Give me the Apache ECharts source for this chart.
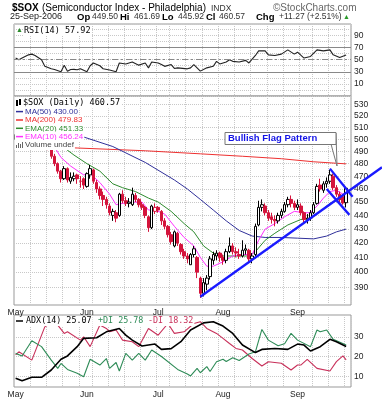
<!DOCTYPE html>
<html><head><meta charset="utf-8">
<script src="https://cdn.jsdelivr.net/npm/echarts@6/dist/echarts.min.js"></script>
<style>html,body{margin:0;padding:0;background:#fff;}#c{width:382px;height:400px;}</style>
</head><body><div id="c"></div>
<script>
// ---- trading days (2006) ----
const mayDays=[1,2,3,4,5,8,9,10,11,12,15,16,17,18,19,22,23,24,25,26,30,31];
const junDays=[1,2,5,6,7,8,9,12,13,14,15,16,19,20,21,22,23,26,27,28,29,30];
const julDays=[3,5,6,7,10,11,12,13,14,17,18,19,20,21,24,25,26,27,28,31];
const augDays=[1,2,3,4,7,8,9,10,11,14,15,16,17,18,21,22,23,24,25,28,29,30,31];
const sepDays=[1,5,6,7,8,11,12,13,14,15,18,19,20,21,22,25];
const monthLabels=['May','Jun','Jul','Aug','Sep'];

// ---- daily OHLC ----
const opens=[500,504,508,503,507,514,516,513,508,502,495,492,486,480,474,468,476,466,468,471,466,468,
462,471,475,465,460,455,452,447,440,442,440,456,451,449,448,455,452,448,446,439,431,443,
446,443,436,432,426,418,427,419,414,411,405,412,410,396,386,392,397,408,411,413,
410,408,414,418,414,412,411,415,415,409,412,433,446,447,442,439,437,436,440,443,448,452,449,
446,447,442,437,438,442,449,463,459,464,466,470,461,456,454,449.5];
const highs=[507,510,509,509,516,519,517,514,509,503,498,493,488,481,475,478,477,473,473,472,470,469,
473,479,476,467,462,458,454,449,445,444,457,459,454,453,461,457,453,450,447,440,448,449,
447,444,438,433,428,429,428,420,416,413,413,418,411,397,396,398,411,414,415,414,
412,416,424,420,417,416,422,419,416,413,434,451,452,449,444,442,440,442,445,450,454,455,451,
452,449,443,441,444,450,464,468,466,469,475,472,463,458,456,461.69];
const lows=[498,502,500,501,506,512,510,506,500,493,491,484,478,472,465,467,465,464,466,464,461,460,
461,468,464,457,452,447,445,440,436,435,439,449,447,446,447,450,446,444,438,428,430,441,
442,433,430,424,419,417,418,412,409,406,405,410,396,383,384,388,395,405,408,407,
405,406,413,412,410,409,410,412,407,406,411,432,443,440,436,434,432,434,438,442,446,446,444,
444,440,435,434,436,441,448,458,457,461,464,459,454,450,448,445.92];
const closes=[504,508,503,507,514,516,513,508,503,495,493,486,480,474,468,476,467,469,470,468,466,463,
472,476,466,460,455,452,448,442,443,438,456,451,449,450,456,452,448,446,440,431,447,446,
444,436,432,426,421,428,420,414,411,409,412,416,400,386,393,396,409,412,413,410,
408,414,418,414,413,411,415,416,409,411,432,446,448,442,438,437,436,440,443,448,452,449,446,
448,442,437,438,442,448,462,460,464,466,471,461,456,452,449.3,460.57];

// ---- overlays [day, value] ----
const ma200Pts=[[0,494.5],[19,492.8],[40,490.5],[57,488],[70,486],[82,484],[92,481.5],[102,479.83]];
const ma50Pts=[[0,512],[10,508],[21,502],[30,494],[40,481],[49,467],[53,460],[57,452],[61,444],[65,436],[69,429],[73,425],[77,424],[82,424],[87,423.5],[92,423],[96,425],[99,428],[102,430]];
const ema20Pts=[[0,500],[10,503],[14,495],[18,487],[22,480],[26,474],[30,464],[33,461],[37,458],[41,453],[44,450],[48,443],[52,434],[55,428],[58,418],[61,413],[64,411],[68,411],[72,411],[74,414],[77,422],[80,427],[84,433],[88,437],[91,438],[94,443],[97,449],[100,452],[102,451.33]];
const ema10Pts=[[0,503],[8,508],[11,498],[14,485],[17,478],[21,471],[23,472],[26,465],[29,456],[31,448],[33,449],[36,450],[39,450],[41,444],[43,444],[46,441],[49,432],[52,424],[55,418],[57,410],[59,404],[61,404],[64,407],[67,411],[70,412],[73,412],[75,422],[77,430],[80,434],[83,439],[86,443],[89,442],[91,442],[93,447],[95,453],[97,458],[99,459],[101,456],[102,456.24]];

// ---- indicators [day, value] ----
const rsiPts=[[0,52.7],[1,50],[2,52.7],[4,58],[5,59.2],[6,57],[8,50],[9,39.2],[11,34.9],[12,33.8],[14,30],[15,40.8],[16,31],[17,33.8],[18,34],[19,33.5],[20,35],[22,30],[23,40],[24,44.6],[26,40],[27,35],[29,33],[31,30],[32,44.6],[34,43],[36,46.2],[38,41],[40,44.6],[41,36.5],[42,46.2],[44,44.6],[45,42],[46,39],[48,42],[49,35.5],[50,36.5],[53,34.9],[54,36.5],[55,41.9],[57,31.1],[59,36.5],[61,39.2],[62,47.3],[63,43],[65,46.2],[66,50],[67,47.3],[69,46.2],[71,48.9],[72,44.6],[74,57],[75,64.6],[77,64.6],[78,58],[80,57],[82,59.2],[84,66.2],[86,59.2],[87,62.4],[89,52.7],[91,55.4],[93,66.2],[95,64.6],[97,66.2],[98,58],[100,53.8],[102,57.92]];
const adxPts=[[0,9],[2,7.8],[5,9.5],[8,9.5],[11,13.2],[14,18.6],[16,20.3],[19,25],[21,29.2],[25,29.5],[28,32.5],[32,34.2],[34,30.8],[36,28.3],[39,25.3],[43,26.3],[45,23.6],[48,24],[51,27.5],[54,33.4],[58,37],[61,37.6],[64,35.4],[67,31.7],[70,25.8],[74,22],[76,23.6],[80,24.1],[84,23.6],[87,26.3],[89,25.8],[91,22.8],[94,25],[97,28.7],[99,27.5],[102,25.07]];
const pdiPts=[[0,21.6],[2,20.3],[5,28],[8,25],[11,18.2],[13,14],[14,16.5],[16,13.5],[19,11.5],[21,9.8],[23,18.6],[26,15.7],[28,19],[29,14],[31,17],[32,12.7],[34,21.6],[36,18.2],[38,21.6],[40,18.2],[42,23.3],[45,20],[50,13.5],[53,11.2],[54,10.2],[56,14],[57,11.8],[59,14.9],[60,12.4],[62,17.4],[64,18.6],[65,17.5],[67,19.4],[69,18],[72,21.3],[74,22.4],[76,33.7],[78,28.3],[81,25.5],[83,26.5],[85,31.7],[87,28.3],[91,25],[93,33.4],[94,32.5],[96,33.4],[98,28.7],[102,25.78]];
const mdiPts=[[0,20.8],[1,22.4],[5,18.2],[9,35],[10,35.9],[13,35.9],[15,31.7],[16,32.5],[20,28.3],[21,30],[23,25],[26,35.9],[28,34.2],[29,32.5],[31,33.4],[33,28.3],[36,27.5],[38,25],[41,34.2],[44,30.8],[47,36.7],[49,31.7],[52,32.5],[55,36.7],[57,37.6],[59,34.2],[62,31.7],[64,29.2],[66,26.6],[68,24.1],[70,23.3],[73,19],[76,15.2],[78,17.4],[82,16.6],[85,13.2],[87,15.7],[88,15.7],[90,18.6],[93,14],[97,12.7],[99,17.4],[101,20.3],[102,18.32]];

// ---- ticks ----
const priceTicks=[390,400,410,420,430,440,450,460,470,480,490,500,510,520,530];
const rsiLabels=[10,30,50,70,90];
const adxTicks=[10,20,30];

// ---- trend lines (data space: [day, price]) ----
const upTrend=[[57.4,383.8],[98,450]];
const flagUpper=[[97,476],[104.2,454]];
const flagLower=[[96.1,460],[103.2,440.4]];

// build categories
const cats=[], monthStart=new Set(), weekStart=new Set(), monthOf={};
let prev=null;
[mayDays,junDays,julDays,augDays,sepDays].forEach((days,m)=>days.forEach((d,k)=>{
  const dt=new Date(2006,4+m,d); const i=cats.length;
  cats.push((4+m+1)+'/'+d);
  if(k===0){monthStart.add(i);monthOf[i]=monthLabels[m];}
  if(prev && (dt.getDay()<=prev.getDay() || (dt-prev)>4*864e5)) weekStart.add(i);
  prev=dt;
}));
cats.push('');
const L=Math.log;

const RED='#d4143c', BLK='#000';
const candleData=closes.map((c,i)=>{
  const o=opens[i], pc=i>0?closes[i-1]:o;
  const col = c>=pc ? BLK : RED;
  const up = c>o;
  return {value:[L(o),L(c),L(lows[i]),L(highs[i])],
    itemStyle:{color: up?'#fff':col, color0: up?'#fff':col, borderColor:col, borderColor0:col}};
});
const lp=pts=>pts.map(p=>[p[0],L(p[1])]);

const grids=[{left:14,top:24,width:337,height:72},{left:14,top:96,width:337,height:209},{left:14,top:315,width:337,height:72}];
const gridLine={color:'#c8c8c8',type:'dotted',width:1};
const xAxes=[0,1,2].map(g=>({type:'category',gridIndex:g,data:cats,boundaryGap:true,
  axisLine:{show:false},axisTick:{show:false},
  axisLabel:{show:g>0,interval:(i)=>monthStart.has(i),formatter:(v,i)=>monthOf[i]||'',fontSize:8.5,color:'#222',fontFamily:'Liberation Sans',margin:3},
  splitLine:{show:true,interval:(i)=>weekStart.has(i),lineStyle:gridLine}}));
const yLab={fontSize:8.5,color:'#222',fontFamily:'Liberation Sans',margin:3};
const yAxes=[
 {type:'value',gridIndex:0,position:'right',min:-10,max:109,interval:10,axisLine:{show:false},axisTick:{show:false},
  axisLabel:Object.assign({formatter:v=>rsiLabels.includes(v)?String(v):''},yLab),splitLine:{show:true,lineStyle:gridLine}},
 {type:'value',gridIndex:1,position:'right',min:L(378.5),max:L(537.8),axisLine:{show:false},
  axisTick:{show:false,customValues:priceTicks.map(L)},
  axisLabel:Object.assign({customValues:priceTicks.map(L),formatter:v=>String(Math.round(Math.exp(v)))},yLab),
  splitLine:{show:true,lineStyle:gridLine}},
 {type:'value',gridIndex:2,position:'right',min:4.6,max:41,axisLine:{show:false},
  axisTick:{show:false,customValues:adxTicks},axisLabel:Object.assign({customValues:adxTicks},yLab),
  splitLine:{show:true,lineStyle:gridLine}}
];
const lineS=(xi,yi,data,color,w,extra)=>Object.assign({type:'line',xAxisIndex:xi,yAxisIndex:yi,data,symbol:'none',silent:true,
  lineStyle:{color,width:w||1},itemStyle:{color},animation:false,z:3},extra||{});

const series=[
 lineS(0,0,rsiPts,'#222',1.1,{markLine:{silent:true,symbol:'none',label:{show:false},animation:false,
   data:[{yAxis:70,lineStyle:{color:'#888',type:'solid',width:1}},{yAxis:30,lineStyle:{color:'#888',type:'solid',width:1}},
         {yAxis:50,lineStyle:{color:'#888',type:[6,3,2,3],width:1}}]}}),
 lineS(1,1,lp(ma200Pts),'#ee3030',1),
 lineS(1,1,lp(ma50Pts),'#30309a',1),
 lineS(1,1,lp(ema20Pts),'#2e8b2e',1),
 lineS(1,1,lp(ema10Pts),'#ff30ff',1),
 {type:'candlestick',xAxisIndex:1,yAxisIndex:1,data:candleData,barWidth:3,animation:false,silent:true,z:4,itemStyle:{borderWidth:1}},
 lineS(2,2,mdiPts,'#c8305a',1.1),
 lineS(2,2,pdiPts,'#2e8b57',1.1),
 lineS(2,2,adxPts,'#000',1.6)
];

const chart=echarts.init(document.getElementById('c'),null,{renderer:'canvas'});
chart.setOption({animation:false,backgroundColor:'#fff',
  grid:grids.map(g=>Object.assign({show:true,borderColor:'#999',borderWidth:1,backgroundColor:'transparent'},g)),
  xAxis:xAxes,yAxis:yAxes,series});

// ---- texts & annotations ----
const F='Liberation Sans', M='DejaVu Sans Mono';
const T=(x,y,text,size,color,opt)=>({type:'text',x,y,z:100,style:Object.assign({text,
  font:(opt&&opt.bold?'bold ':'')+size+'px "'+((opt&&opt.mono)?M:F)+'"',fill:color||'#000',
  textVerticalAlign:'middle',verticalAlign:'middle'},(opt&&opt.bg)?{backgroundColor:'#fff',padding:[1,1,1,0]}:{})});
const g=[];
g.push(T(12,8,'$SOX',10,'#000',{bold:true}));
g.push(T(42,8,'(Semiconductor Index - Philadelphia)',10,'#000'));
g.push(T(211,8.5,'INDX',8.5,'#333'));
g.push(T(273,8,'\u00A9StockCharts.com',10,'#666'));
g.push(T(10,17,'25-Sep-2006',9,'#222'));
[[77,'Op'],[120,'Hi'],[162,'Lo'],[206,'Cl'],[256,'Chg']].forEach(a=>g.push(T(a[0],17,a[1],9.5,'#000',{bold:true})));
[[92,'449.50'],[134,'461.69'],[178,'445.92'],[219,'460.57'],[279,'+11.27 (+2.51%)']].forEach(a=>g.push(T(a[0],17,a[1],8.5,'#333')));
g.push(T(343,17,'\u25B2',7,'#2a9a2a'));
g.push(T(24,30.5,'RSI(14) 57.92',8.5,'#000',{mono:true,bg:true}));
g.push({type:'text',x:16,y:30.5,z:100,style:{text:'\u25B2',font:'7px "Liberation Sans"',fill:'#2a8a2a',textVerticalAlign:'middle',verticalAlign:'middle'}});
// main legend
g.push({type:'rect',z:99,shape:{x:14.5,y:97,width:11,height:53},style:{fill:'#fff'}});
g.push(T(23,103,'$SOX (Daily) 460.57',8.5,'#000',{mono:true,bg:true}));
g.push({type:'rect',z:100,shape:{x:16,y:100,width:2,height:6},style:{fill:'#000'}});
g.push({type:'rect',z:100,shape:{x:19,y:99,width:2,height:6},style:{fill:'#000'}});
const legs=[['MA(50) 430.00','#30309a',111.6],['MA(200) 479.83','#ee3030',120],['EMA(20) 451.33','#2e8b2e',128.3],['EMA(10) 456.24','#ff30ff',136.6]];
legs.forEach(l=>{g.push(T(25,l[2],l[0],8,l[1],{bg:true}));
  g.push({type:'line',z:101,shape:{x1:16,y1:l[2],x2:23,y2:l[2]},style:{stroke:l[1],lineWidth:1.5}});});
g.push(T(25,145,'Volume undef',8,'#444',{bg:true}));
[[16,3],[18,5],[20,4],[22,6]].forEach(b=>g.push({type:'rect',z:101,shape:{x:b[0],y:148-b[1],width:1,height:b[1]},style:{fill:'#666'}}));
// ADX legend
g.push({type:'line',z:101,shape:{x1:16,y1:321,x2:23,y2:321},style:{stroke:'#000',lineWidth:1.5}});
g.push(T(26,321,'ADX(14) 25.07',8.4,'#000',{mono:true,bg:true}));
g.push(T(98,321,'+DI 25.78',8.4,'#2e8b57',{mono:true,bg:true}));
g.push(T(148,321,'-DI 18.32',8.4,'#c8305a',{mono:true,bg:true}));
// Bullish flag callout
g.push({type:'polyline',z:102,shape:{points:[[331,144],[337,166],[336,133]]},style:{stroke:'#777',fill:'#fff',lineWidth:1}});
g.push({type:'rect',z:102,shape:{x:225,y:132.5,width:111,height:12},style:{fill:'#fff',stroke:'#777',lineWidth:1}});
g.push({type:'text',x:228,y:138.7,z:103,style:{text:'Bullish Flag Pattern',font:'bold 9.5px "Liberation Sans"',fill:'#1414e6',textVerticalAlign:'middle',verticalAlign:'middle'}});
// trend lines via axis conversion
const px=p=>chart.convertToPixel({gridIndex:1},[p[0],L(p[1])]);
function extLine(pts,xmax){const a=px(pts[0]),b=px(pts[1]);const s=(b[1]-a[1])/(b[0]-a[0]);
  const x2=xmax==null?b[0]:xmax; return {x1:a[0],y1:a[1],x2:x2,y2:a[1]+s*(x2-a[0])};}
g.push({type:'line',z:90,shape:extLine(upTrend,382),style:{stroke:'#1a1aff',lineWidth:2.3}});
g.push({type:'line',z:90,shape:extLine(flagUpper),style:{stroke:'#1a1aff',lineWidth:2.3}});
g.push({type:'line',z:90,shape:extLine(flagLower),style:{stroke:'#1a1aff',lineWidth:2.3}});
chart.setOption({graphic:{elements:g}});
</script></body></html>
